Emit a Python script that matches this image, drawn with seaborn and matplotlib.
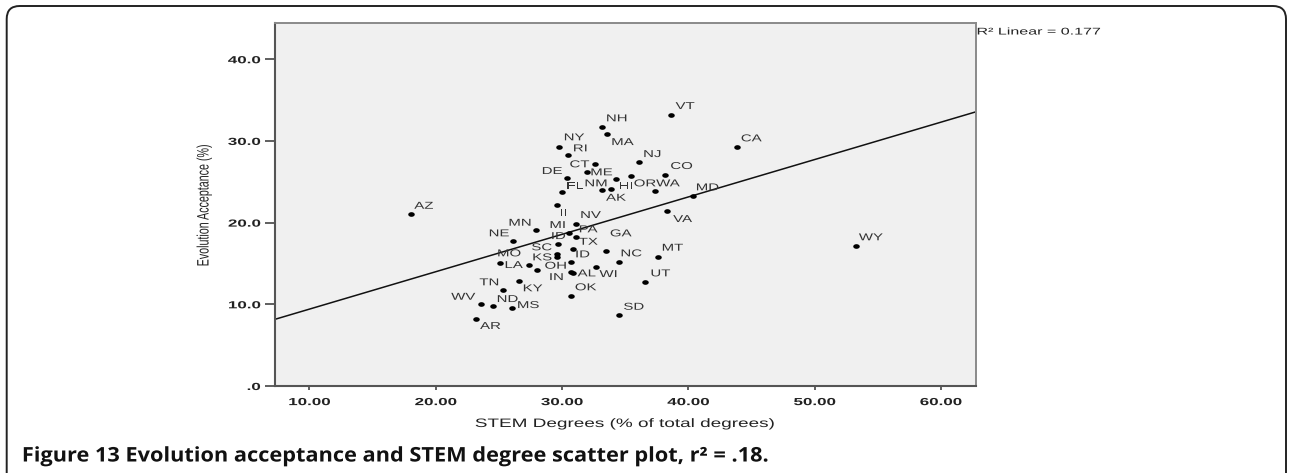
import numpy as np
import pandas as pd
import matplotlib
matplotlib.use("Agg")
import matplotlib.pyplot as plt
import seaborn as sns
from matplotlib.patheffects import AbstractPathEffect
from matplotlib.transforms import Affine2D, IdentityTransform
from matplotlib.path import Path
from matplotlib.patches import FancyBboxPatch

# ---- data -------------------------------------------------------------
states = ["AZ", "VT", "CA", "WY", "MD", "VA", "MT", "UT", "CO", "WA",
          "OR", "HI", "NJ", "NH", "MA", "NY", "RI", "CT", "ME", "DE",
          "NM", "AK", "FL", "IL", "NV", "MN", "NE", "MI", "PA", "ID",
          "TX", "SC", "KS", "ID", "GA", "NC", "WI", "MO", "LA", "OH",
          "AL", "IN", "TN", "KY", "OK", "WV", "ND", "MS", "AR", "SD"]

stem_degrees = [18.03, 38.64, 43.89, 53.29, 40.36, 38.30, 37.58, 36.58, 38.19, 37.39,
                35.49, 34.28, 36.10, 33.20, 33.59, 29.77, 30.48, 32.60, 31.96, 30.38,
                33.18, 33.91, 30.01, 29.59, 31.09, 27.93, 26.10, 30.54, 31.09, 29.72,
                30.90, 29.59, 29.59, 30.70, 33.49, 34.50, 32.68, 25.10, 27.42, 28.00,
                30.90, 30.75, 25.31, 26.60, 30.70, 23.59, 24.57, 26.07, 23.20, 34.50]

evolution_acceptance = [21.09, 33.17, 29.29, 17.14, 23.29, 21.42, 15.83, 12.69, 25.77, 23.83,
                        25.70, 25.37, 27.38, 31.74, 30.88, 29.29, 28.31, 27.14, 26.16, 25.50,
                        23.99, 24.08, 23.71, 22.18, 19.83, 19.13, 17.81, 18.67, 18.20, 17.34,
                        16.73, 16.16, 15.75, 15.21, 16.52, 15.21, 14.60, 15.09, 14.81, 14.20,
                        13.79, 13.95, 11.75, 12.89, 11.02, 10.07, 9.79, 9.58, 8.24, 8.69]

x_ticks = [10, 20, 30, 40, 50, 60]
x_tick_labels = ["10.00", "20.00", "30.00", "40.00", "50.00", "60.00"]
y_ticks = [0, 10, 20, 30, 40]
y_tick_labels = [".0", "10.0", "20.0", "30.0", "40.0"]

x_title = "STEM Degrees (% of total degrees)"
y_title = "Evolution Acceptance (%)"
fit_note = "R\u00b2 Linear = 0.177"
caption = "Figure 13 Evolution acceptance and STEM degree scatter plot, r\u00b2 = .18."

# label placement relative to each point, in pixels (right, down)
label_offsets = [(13, -8), (14, -9), (14, -8.4), (14.8, -8.7), (14.8, -8.4),
                 (15.8, 8), (15, -9), (15.5, -9), (16.2, -9.5), (12.7, -8),
                 (13.7, 7.3), (10, 7.3), (13.3, -8.3), (14.4, -8.4), (15.4, 8.3),
                 (15.2, -9.4), (12.3, -6.4), (-15.2, 0), (15, 0), (-14.5, -6.7),
                 (-6, -6.7), (4.7, 8.4), (13, -6.3), (9, 8.5), (15, -9),
                 (-15.7, -7), (-13.5, -7.2), (-11, -8.5), (12.6, -8), (0, -8.3),
                 (15, -7.6), (-15, -6.7), (-14.5, 0), (11.8, -7.4), (14.8, -17.7),
                 (12.6, -8.4), (12.6, 7.3), (9.2, -9.4), (-15.5, 0), (19, -4.3),
                 (13.4, 0), (-15, 5), (-13.5, -7.7), (13.8, 7.6), (15, -8.7),
                 (-17.7, -7), (14.2, -7), (16, -2.7), (14.3, 7.3), (15, -8.3)]

df = pd.DataFrame({"state": states, "stem": stem_degrees, "evo": evolution_acceptance})


# ---- helpers ----------------------------------------------------------
class HStretch(AbstractPathEffect):
    """Draw text widened (or narrowed) horizontally about an anchor."""

    def __init__(self, factor, anchor="center"):
        super().__init__()
        self.factor = factor
        self.anchor = anchor

    def draw_path(self, renderer, gc, tpath, affine, rgbFace=None):
        ext = tpath.transformed(affine).get_extents()
        if self.anchor == "left":
            x0 = ext.x0
        elif self.anchor == "right":
            x0 = ext.x1
        else:
            x0 = 0.5 * (ext.x0 + ext.x1)
        t = affine + Affine2D().translate(-x0, 0).scale(self.factor, 1.0).translate(x0, 0)
        renderer.draw_path(gc, tpath, t, rgbFace)


theta = np.linspace(0, 2 * np.pi, 40)
dot_marker = Path(np.column_stack([1.4 * np.cos(theta), np.sin(theta)]), closed=True)

# ---- figure -----------------------------------------------------------
sns.set_style("ticks")
plt.rcParams["font.family"] = ["Liberation Sans", "DejaVu Sans"]

W, H = 1289, 473
fig = plt.figure(figsize=(W / 100, H / 100), dpi=100)
fig.patch.set_facecolor("white")

left, right, top, bottom = 275, 975.7, 23.3, 386
ax = fig.add_axes([left / W, 1 - bottom / H, (right - left) / W, (bottom - top) / H])
ax.set_facecolor("#f0f0f0")

ax.set_xlim(7.28, 62.76)
ax.set_ylim(0, 44.4)

sns.regplot(data=df, x="stem", y="evo", ax=ax, scatter=False, ci=None,
            truncate=False, line_kws={"color": "#111111", "lw": 1.1})
sns.scatterplot(data=df, x="stem", y="evo", ax=ax, marker=dot_marker, s=22,
                color="black", linewidth=0, zorder=3)

stretch = 1.55
for (s, xv, yv), (dx, dy) in zip(zip(states, stem_degrees, evolution_acceptance), label_offsets):
    ax.annotate(s, (xv, yv), xytext=(dx, -dy), textcoords="offset pixels",
                ha="center", va="center", fontsize=7.2, color="#333333",
                path_effects=[HStretch(1.5, "center")], zorder=4)

ax.set_xticks(x_ticks, labels=x_tick_labels)
ax.set_yticks(y_ticks, labels=y_tick_labels)
ax.set_xlabel("")
ax.set_ylabel("")
ax.tick_params(axis="x", length=3, width=1.2, color="#444444", pad=5,
               labelsize=7.4, labelcolor="#222222")
ax.tick_params(axis="y", length=7.5, width=1.2, color="#444444", pad=3,
               labelsize=7.4, labelcolor="#222222")
for t in ax.get_xticklabels():
    t.set_fontweight("bold")
    t.set_path_effects([HStretch(1.65, "center")])
for t in ax.get_yticklabels():
    t.set_fontweight("bold")
    t.set_path_effects([HStretch(1.65, "right")])

for side in ["left", "bottom"]:
    ax.spines[side].set_color("#555555")
    ax.spines[side].set_linewidth(1.5)
for side in ["top", "right"]:
    ax.spines[side].set_visible(True)
    ax.spines[side].set_color("#8a8a8a")
    ax.spines[side].set_linewidth(1.4)

# axis titles
fig.text(625 / W, 1 - 424 / H, x_title, ha="center", va="center", fontsize=8.8,
         color="#222222", path_effects=[HStretch(stretch, "center")])
fig.text(204 / W, 1 - 205 / H, y_title, ha="center", va="center", rotation=90,
         fontsize=7.7, color="#222222", path_effects=[HStretch(stretch, "center")])
fig.text(977 / W, 1 - 31.5 / H, fit_note, ha="left", va="center", fontsize=7,
         color="#222222", path_effects=[HStretch(1.65, "left")])

# caption under the chart
fig.text(22 / W, 1 - 456.5 / H, caption, ha="left", va="center", fontsize=14.5,
         fontweight="bold", family=["Open Sans", "DejaVu Sans"], color="#111111",
         path_effects=[HStretch(1.08, "left")])

# rounded frame around the whole figure
frame = FancyBboxPatch((6.7, -20), 1286 - 6.7, (H - 6) + 20,
                       boxstyle="round,pad=0,rounding_size=13",
                       transform=IdentityTransform(), fill=False,
                       edgecolor="#222222", linewidth=1.4)
fig.add_artist(frame)

fig.savefig("out.png", dpi=100)
